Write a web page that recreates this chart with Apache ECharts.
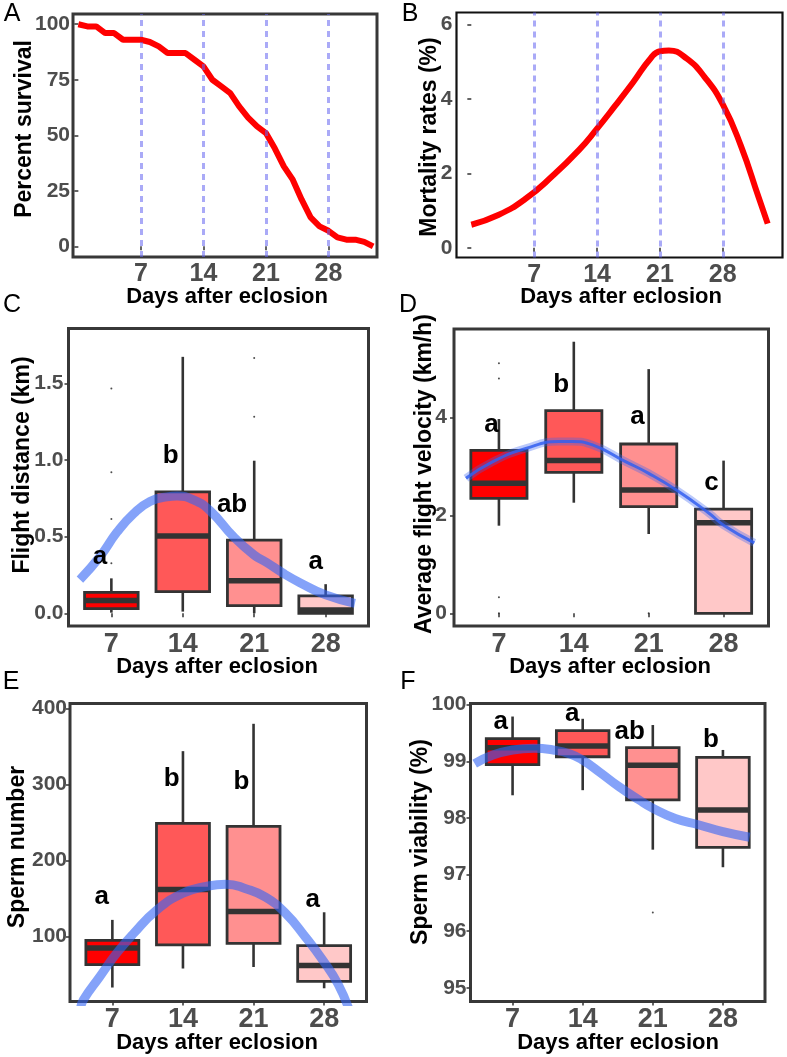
<!DOCTYPE html>
<html><head><meta charset="utf-8">
<script src="https://cdn.jsdelivr.net/npm/echarts@6/dist/echarts.min.js"></script>
<style>html,body{margin:0;padding:0;background:#fff}#c{width:787px;height:1057px}</style>
</head><body><div id="c"></div>
<script>
// ---------- DATA ----------
const survivalDays = [0,1,2,3,4,5,6,7,8,9,10,11,12,13,14,15,16,17,18,19,20,21,22,23,24,25,26,27,28,29,30,31,32,33];
const survivalPct  = [100,99,99,96,96,93,93,93,92,90,87,87,87,84,81,75,72,69,63,58,54,51,44,36,30,21,13,9,7,4,3,3,2,0];
const mortalityDays = [0,3,6,9,12,14,16,18,20,21,22,24,26,28,30,32,33];
const mortalityRate = [0.62,0.88,1.31,1.92,2.63,3.2,3.81,4.44,5.1,5.28,5.3,5.08,4.58,3.85,2.75,1.35,0.65];
const markDays = [7,14,21,28];
const dayTicks = ['7','14','21','28'];

// box stats: [min, Q1, median, Q3, max]
const flightBox = [[0.004,0.03,0.083,0.137,0.228],[0.011,0.141,0.504,0.793,1.674],[0,0.05,0.213,0.478,0.996],[0,0,0.022,0.113,0.19]];
const flightOutliers = [[1,1.468],[1,0.92],[1,0.615],[1,0.326],[3,1.667],[3,1.283]];
const flightFit = [[0.56,0.22],[0.84,0.37],[1.08,0.53],[1.31,0.65],[1.54,0.73],[1.78,0.76],[1.92,0.765],[2.15,0.74],[2.38,0.67],[2.71,0.5],[3.0,0.38],[3.18,0.33],[3.41,0.26],[3.64,0.2],[4.0,0.12],[4.41,0.065]];
const flightLetters = ['a','b','ab','a'];
const flightLetterPos = [[0.84,0.37],[1.83,1.03],[2.69,0.706],[3.86,0.337]];

const velocityBox = [[1.79,2.35,2.66,3.33,3.97],[2.26,2.88,3.12,4.14,5.55],[1.62,2.18,2.52,3.46,4.99],[0,0,1.85,2.13,3.12]];
const velocityOutliers = [[1,5.11],[1,4.8],[1,0.33],[1,0],[3,0]];
const velocityFit = [[0.56,2.76],[0.92,3.1],[1.36,3.37],[1.8,3.51],[1.98,3.51],[2.25,3.44],[2.69,3.1],[3.0,2.86],[3.37,2.52],[3.81,2.04],[4.0,1.8],[4.41,1.44]];
const velocityLetters = ['a','b','a','c'];
const velocityLetterPos = [[0.9,3.85],[1.83,4.67],[2.85,4.02],[3.84,2.66]];

const spermBox = [[33,63,85,95,122],[58,89,162,249,344],[60,91,133,245,380],[32,41,62,88,132]];
const spermFit = [[0.55,5],[0.59,16.8],[0.82,47],[1.06,78],[1.3,104],[1.63,135],[2.0,157],[2.33,166],[2.61,169],[2.89,163],[3.17,152],[3.45,131],[3.73,100],[3.98,69],[4.2,37],[4.36,2]];
const spermLetters = ['a','b','b','a'];
const spermLetterPos = [[0.85,152.6],[1.84,308],[2.83,303.7],[3.84,148]];

const viabilityBox = [[98.40,98.94,99.24,99.40,99.79],[98.49,99.08,99.27,99.54,99.75],[97.44,98.32,98.93,99.24,99.64],[97.13,97.48,98.14,99.07,99.20]];
const viabilityOutliers = [[3,96.33]];
const viabilityFit = [[0.46,98.96],[0.72,99.11],[1.0,99.2],[1.3,99.23],[1.58,99.2],[1.82,99.13],[2.0,99.02],[2.24,98.81],[2.52,98.55],[2.8,98.32],[3.0,98.17],[3.32,97.99],[3.65,97.88],[4.0,97.76],[4.38,97.66]];
const viabilityLetters = ['a','a','ab','b'];
const viabilityLetterPos = [[0.83,99.69],[1.85,99.84],[2.67,99.52],[3.83,99.37]];

// ---------- STYLE / BUILD ----------
const FONT = '"Liberation Sans", Arial, Helvetica, sans-serif';
const boxColors = ['#ff0000','#ff5858','#ff9090','#ffc8c8'];
const fitColor = 'rgba(50,100,245,0.6)';

const grids = [
  {left:73, top:14, width:304, height:243, borderColor:'#383838', borderWidth:3},
  {left:456.5, top:12.5, width:326, height:245, borderColor:'#111', borderWidth:2.2},
  {left:68.5, top:328.5, width:300, height:297.5, borderColor:'#383838', borderWidth:3},
  {left:454, top:329, width:314.5, height:297, borderColor:'#383838', borderWidth:3},
  {left:70, top:703.5, width:296.5, height:298, borderColor:'#383838', borderWidth:3},
  {left:470.5, top:703.5, width:294.5, height:298, borderColor:'#383838', borderWidth:3}
].map(g => Object.assign({show:true, containLabel:false, backgroundColor:'transparent'}, g));

function xAxis(i, min, max, ticks, fmt, fs) {
  return {type:'value', gridIndex:i, min, max,
    axisLine:{show:false}, splitLine:{show:false},
    axisTick:{show:true, length:4, customValues:ticks, lineStyle:{color:'#333', width:1.5}},
    axisLabel:{customValues:ticks, formatter:fmt, fontSize:fs, fontWeight:'bold', color:'#4d4d4d', fontFamily:FONT, margin:5}};
}
function yAxis(i, min, max, ticks, fmt, margin) {
  return {type:'value', gridIndex:i, min, max,
    axisLine:{show:false}, splitLine:{show:false},
    axisTick:{show:true, length:4, customValues:ticks, lineStyle:{color:'#333', width:1.5}},
    axisLabel:{customValues:ticks, formatter:fmt, fontSize:21, fontWeight:'bold', color:'#4d4d4d', fontFamily:FONT, margin:margin}};
}
const catFmt = v => dayTicks[Math.round(v) - 1];
const plainFmt = v => String(v);

const xAxes = [
  xAxis(0, -0.6, 33.43, markDays, plainFmt, 25),
  xAxis(1, -1.65, 34.65, markDays, plainFmt, 25),
  xAxis(2, 0.4, 4.6, [1,2,3,4], catFmt, 27),
  xAxis(3, 0.4, 4.6, [1,2,3,4], catFmt, 27),
  xAxis(4, 0.4, 4.6, [1,2,3,4], catFmt, 27),
  xAxis(5, 0.4, 4.6, [1,2,3,4], catFmt, 27)
];
const yAxes = [
  yAxis(0, -4.8, 104.6, [0,25,50,75,100], plainFmt, 3),
  yAxis(1, -0.26, 6.32, [0,2,4,6], plainFmt, 4),
  yAxis(2, -0.083, 1.859, [0,0.5,1,1.5], v => v.toFixed(1), 5),
  yAxis(3, -0.26, 5.81, [0,2,4], plainFmt, 7),
  yAxis(4, 14.6, 406.7, [100,200,300,400], plainFmt, 3),
  yAxis(5, 94.76, 100.02, [95,96,97,98,99,100], plainFmt, 4)
];

function renderBox(params, api) {
  const x = api.value(0);
  const lo = api.coord([x, api.value(1)]);
  const q1 = api.coord([x, api.value(2)]);
  const md = api.coord([x, api.value(3)]);
  const q3 = api.coord([x, api.value(4)]);
  const hi = api.coord([x, api.value(5)]);
  const half = api.size([0.75, 0])[0] / 2;
  const stroke = '#333';
  return {type:'group', children:[
    {type:'line', shape:{x1:lo[0], y1:lo[1], x2:q1[0], y2:q1[1]}, style:{stroke, lineWidth:2.6}},
    {type:'line', shape:{x1:q3[0], y1:q3[1], x2:hi[0], y2:hi[1]}, style:{stroke, lineWidth:2.6}},
    {type:'rect', shape:{x:q1[0]-half, y:q3[1], width:2*half, height:q1[1]-q3[1]},
      style:{fill:boxColors[params.dataIndex], stroke, lineWidth:2.8}},
    {type:'line', shape:{x1:md[0]-half, y1:md[1], x2:md[0]+half, y2:md[1]}, style:{stroke, lineWidth:5.5}}
  ]};
}

// significance letters drawn as text at data coordinates via the axes
function renderLetter(params, api) {
  const p = api.coord([api.value(0), api.value(1)]);
  return {type:'text', x:p[0], y:p[1],
    style:{text: api.value(2), fontSize:26, fontWeight:'bold', fontFamily:FONT, fill:'#000', align:'center', verticalAlign:'middle'}};
}

function boxPanel(i, box, outliers, fit, letters, letterPos, fitStyle) {
  const s = [];
  s.push({type:'custom', xAxisIndex:i, yAxisIndex:i, renderItem:renderBox, clip:false, z:2,
    encode:{x:0, y:[1,2,3,4,5]},
    data: box.map((b, k) => [k + 1].concat(b))});
  if (outliers) s.push({type:'scatter', xAxisIndex:i, yAxisIndex:i, symbolSize:2, z:1,
    itemStyle:{color:'#222'}, data: outliers});
  fitStyle.forEach(ls => s.push({type:'line', xAxisIndex:i, yAxisIndex:i, smooth:true, showSymbol:false, z:3,
    lineStyle:ls, data: fit}));
  s.push({type:'custom', xAxisIndex:i, yAxisIndex:i, renderItem:renderLetter, clip:false, z:5,
    dimensions:['x','y',{name:'letter', type:'ordinal'}], encode:{x:0, y:1},
    data: letters.map((t, k) => [letterPos[k][0], letterPos[k][1], t])});
  return s;
}

const dashStyle = {type:[6,5], color:'rgba(100,100,240,0.55)', width:3};
const series = [
  {type:'line', xAxisIndex:0, yAxisIndex:0, showSymbol:false, lineStyle:{color:'#ff0000', width:6},
   data: survivalDays.map((d, k) => [d, survivalPct[k]]),
   markLine:{silent:true, symbol:['none','none'], label:{show:false}, lineStyle:dashStyle, data: markDays.map(d => ({xAxis:d}))}},
  {type:'line', xAxisIndex:1, yAxisIndex:1, showSymbol:false, smooth:true, lineStyle:{color:'#ff0000', width:6},
   data: mortalityDays.map((d, k) => [d, mortalityRate[k]]),
   markLine:{silent:true, symbol:['none','none'], label:{show:false}, lineStyle:dashStyle, data: markDays.map(d => ({xAxis:d}))}}
].concat(
  boxPanel(2, flightBox, flightOutliers, flightFit, flightLetters, flightLetterPos, [{color:fitColor, width:9}]),
  boxPanel(3, velocityBox, velocityOutliers, velocityFit, velocityLetters, velocityLetterPos,
    [{color:'rgba(60,100,240,0.35)', width:8}, {color:'rgba(50,95,240,0.85)', width:3}]),
  boxPanel(4, spermBox, null, spermFit, spermLetters, spermLetterPos, [{color:fitColor, width:9}]),
  boxPanel(5, viabilityBox, viabilityOutliers, viabilityFit, viabilityLetters, viabilityLetterPos, [{color:fitColor, width:9}])
);

function txt(x, y, text, size, weight, rotate) {
  return {type:'text', x, y, rotation: rotate ? Math.PI/2 : 0, z:10,
    style:{text, fontSize:size, fontWeight:weight, fontFamily:FONT, fill:'#000', align:'center', verticalAlign:'middle'}};
}
const graphics = [
  txt(12, 14, 'A', 25, 'normal'), txt(410, 14, 'B', 25, 'normal'),
  txt(12, 305, 'C', 25, 'normal'), txt(408, 305, 'D', 25, 'normal'),
  txt(11, 682, 'E', 25, 'normal'), txt(408, 682, 'F', 25, 'normal'),
  txt(227, 297, 'Days after eclosion', 22, 'bold'),
  txt(621, 297, 'Days after eclosion', 22, 'bold'),
  txt(217, 667, 'Days after eclosion', 22, 'bold'),
  txt(610, 667, 'Days after eclosion', 22, 'bold'),
  txt(217, 1043, 'Days after eclosion', 22, 'bold'),
  txt(618, 1043, 'Days after eclosion', 22, 'bold'),
  txt(25, 129, 'Percent survival', 23, 'bold', true),
  txt(430, 137, 'Mortality rates (%)', 23, 'bold', true),
  txt(23, 465, 'Flight distance (km)', 23, 'bold', true),
  txt(425, 474, 'Average flight velocity (km/h)', 23, 'bold', true),
  txt(18, 847, 'Sperm number', 23, 'bold', true),
  txt(421, 842, 'Sperm viability (%)', 23, 'bold', true)
];

const chart = echarts.init(document.getElementById('c'), null, {renderer:'canvas'});
chart.setOption({animation:false, backgroundColor:'#fff', grid:grids, xAxis:xAxes, yAxis:yAxes, series, graphic:graphics});
</script>
</body></html>
